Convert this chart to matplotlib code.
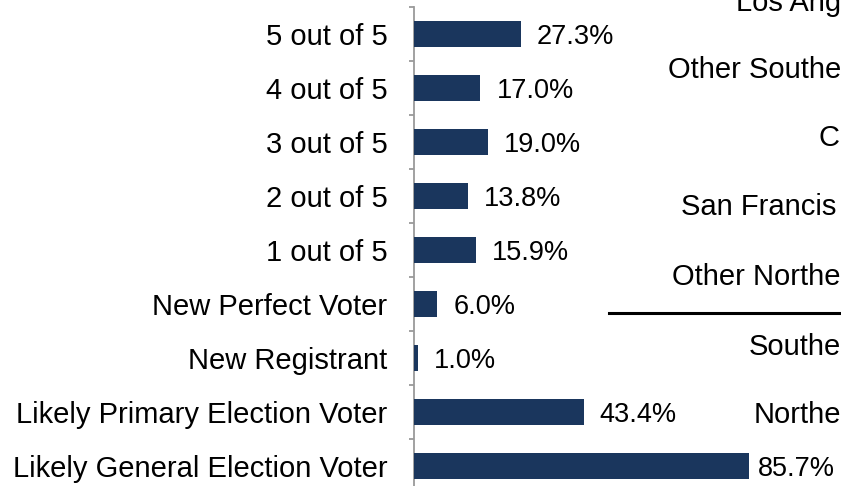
import matplotlib
matplotlib.use("Agg")
import matplotlib.pyplot as plt
import numpy as np

categories = ["5 out of 5", "4 out of 5", "3 out of 5", "2 out of 5", "1 out of 5",
              "New Perfect Voter", "New Registrant",
              "Likely Primary Election Voter", "Likely General Election Voter"]
values = [27.3, 17.0, 19.0, 13.8, 15.9, 6.0, 1.0, 43.4, 85.7]
value_labels = ["27.3%", "17.0%", "19.0%", "13.8%", "15.9%", "6.0%", "1.0%", "43.4%", "85.7%"]

# truncated labels of the neighbouring (cut-off) chart on the right
side_labels = ["Los Ang", "Other Southe", "C", "San Francis", "Other Northe", "Southe", "Northe"]

plt.rcParams['font.family'] = ['Liberation Sans', 'DejaVu Sans']

W, H = 841, 486
DPI = 100
fig = plt.figure(figsize=(W / DPI, H / DPI), dpi=DPI)

ax_left = 414
ax_top = 7
ax_bottom = 493
px_per_unit = 3.91
ax_width_px = 100 * px_per_unit
ax = fig.add_axes([ax_left / W, (H - ax_bottom) / H, ax_width_px / W, (ax_bottom - ax_top) / H])

y = np.arange(len(categories))
bar_color = "#1A365D"
ax.barh(y, values, height=0.48, color=bar_color, zorder=3)
ax.set_xlim(0, 100)
ax.set_ylim(len(categories) - 0.5, -0.5)

for spine in ["top", "right", "bottom"]:
    ax.spines[spine].set_visible(False)
ax.spines["left"].set_color("#9a9a9a")
ax.spines["left"].set_linewidth(1.3)
ax.set_xticks([])
ax.set_yticks(y)
ax.set_yticklabels(categories, fontsize=21)
ax.tick_params(axis="y", which="major", length=0, pad=19)
ax.set_yticks(np.arange(-0.5, len(categories), 1.0), minor=True)
ax.tick_params(axis="y", which="minor", length=3.6, width=1.3, color="#9a9a9a", direction="out")

for i, (v, lab) in enumerate(zip(values, value_labels)):
    off = 16 if i < len(values) - 1 else 9
    ax.annotate(lab, xy=(v, i), xytext=(off * 72 / DPI, -2.5 * 72 / DPI),
                textcoords="offset points", ha="left", va="center", fontsize=19.5)

# right-hand cut-off chart labels (right-aligned at the figure edge)
side_right = [841, 841, 840, 836, 841, 841, 841]
side_centers = [3, 70, 138, 207, 277, 347, 415]
for lab, xr, yc in zip(side_labels, side_right, side_centers):
    fig.text(xr / W, 1 - yc / H, lab, ha="right", va="center", fontsize=21)

fig.add_artist(plt.Line2D([609 / W, 1.0], [1 - 313 / H, 1 - 313 / H],
                          transform=fig.transFigure, color="black", linewidth=2.2))

fig.savefig("out.png", dpi=DPI)
